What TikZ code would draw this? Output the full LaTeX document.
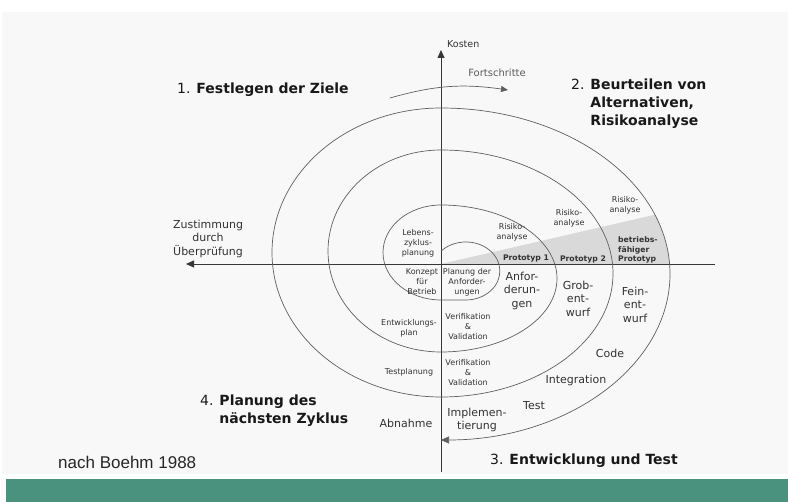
\documentclass[tikz,border=0pt]{standalone}
\usepackage{fontspec}
\setmainfont{DejaVu Sans}
\newfontfamily\refont{Liberation Sans}
\usetikzlibrary{arrows.meta,positioning}
\definecolor{bBg}{RGB}{248,248,248}
\definecolor{bWedge}{RGB}{217,217,217}
\definecolor{bLine}{RGB}{95,95,95}
\definecolor{bAxis}{RGB}{55,55,55}
\definecolor{bText}{RGB}{50,50,50}
\definecolor{bGreen}{RGB}{74,146,126}

\begin{document}
\begin{tikzpicture}[x=1pt,y=1pt,
	lbl/.style={
		text=bText, align=center, inner sep=0pt,
		font=\fontsize{8}{10}\selectfont
	},
	big/.style={lbl, font=\fontsize{11}{13.5}\selectfont},
	proto/.style={lbl, font=\bfseries\fontsize{7.7}{9.6}\selectfont},
	head/.style={
		text=black!90, align=left, inner sep=0pt,
		font=\fontsize{14}{18}\selectfont
	},
	spiral/.style={draw=bLine, line width=0.7pt},
	tip/.style={-{Triangle[length=8pt,width=7pt]}},
	axis/.style={draw=bAxis, line width=0.8pt, tip}
	]
	\useasboundingbox (0,0) rectangle (788,-502);
	\fill[bBg] (2,-12) rectangle (788,-474);
	\fill[bGreen] (6,-479) rectangle (788,-502);

	% shaded prototype wedge
	\begin{scope}
		\clip (441,-264) -- (700,-204.3) -- (700,-264) -- cycle;
		\fill[bWedge] (441,-274) ellipse[x radius=229, y radius=166];
	\end{scope}

	\coordinate (O) at (441,-264);
	\coordinate (ytop) at (441,-50);
	\coordinate (ybot) at (441,-472);
	\coordinate (xlft) at (186,-264);
	\coordinate (xrgt) at (715,-264);
	\coordinate (s0) at (441,-251.2);
	\coordinate (f0) at (390,-98);
	\coordinate (f1) at (508,-90);

	\draw[axis] (ybot) -- (ytop);
	\draw[axis] (xrgt) -- (xlft);

	% spiral
	\draw[spiral, tip] (s0)
	arc[start angle=137, end angle=-90, x radius=34, y radius=29] -- (441,-300)
	arc[start angle=270, end angle=90, x radius=58, y radius=47.5]
	arc[start angle=90, end angle=-90, x radius=116, y radius=73.5]
	arc[start angle=270, end angle=90, x radius=113, y radius=101]
	arc[start angle=90, end angle=-90, x radius=172, y radius=123.5]
	arc[start angle=270, end angle=90, x radius=169, y radius=144.5]
	arc[start angle=90, end angle=-90, x radius=229, y radius=166];

	\draw[spiral, -{Triangle[length=7pt,width=6pt]}] (f0) to[bend left=12] (f1);

	\node[lbl, font=\fontsize{9.5}{11}\selectfont, anchor=west] (kosten) at (447,-44) {Kosten};
	\node[lbl, text=bText!80, font=\fontsize{10}{12}\selectfont] (fort) at (497,-73) {Fortschritte};
	\node[big] (zust) at (208,-238.5) {Zustimmung\\durch\\Überprüfung};

	\node[head, anchor=west] (h1) at (177,-90) {1. \textbf{Festlegen der Ziele}};
	\node[head, anchor=west] (h2) at (571,-104) {\begin{tabular}{@{}l@{ }l@{}}
			2. & \textbf{Beurteilen von}\\ & \textbf{Alternativen,}\\ & \textbf{Risikoanalyse}
	\end{tabular}};
	\node[head, anchor=west] (h3) at (490,-461) {3. \textbf{Entwicklung und Test}};
	\node[head, anchor=west] (h4) at (200,-411) {\begin{tabular}{@{}l@{ }l@{}}
			4. & \textbf{Planung des}\\ & \textbf{nächsten Zyklus}
	\end{tabular}};
	\node[anchor=west, inner sep=0pt, text=black!85, font=\refont\fontsize{17}{20}\selectfont] (src) at (58,-462) {nach Boehm 1988};

	\foreach \n/\x/\y/\t in {
		lz/418/-243/{Lebens-\\zyklus-\\planung},
		kb/422/-282/{Konzept\\für\\Betrieb},
		pa/467/-282/{Planung der\\Anforder-\\ungen},
		ra1/512/-232.5/{Risiko-\\analyse},
		ra2/569/-218/{Risiko-\\analyse},
		ra3/625/-205/{Risiko-\\analyse},
		ep/409/-328/{Entwicklungs-\\plan},
		vv1/468/-327/{Verifikation\\\&\\Validation},
		tp/409/-372/{Testplanung},
		vv2/468/-373/{Verifikation\\\&\\Validation}}
	\node[lbl] (\n) at (\x,\y) {\t};

	\foreach \n/\x/\y/\t in {
		anf/522/-290.5/{Anfor-\\derun-\\gen},
		grob/578/-298.5/{Grob-\\ent-\\wurf},
		fein/635/-304.5/{Fein-\\ent-\\wurf},
		code/610/-353/{Code},
		integ/576/-380/{Integration},
		test/534/-406/{Test},
		impl/477/-420/{Implemen-\\tierung},
		abn/406/-423/{Abnahme}}
	\node[big] (\n) at (\x,\y) {\t};

	\node[proto] (p1) at (526,-259) {Prototyp 1};
	\node[proto] (p2) at (583,-259) {Prototyp 2};
	\node[proto, align=left, anchor=west] (p3) at (618,-250) {betriebs-\\fähiger\\Prototyp};
\end{tikzpicture}
\end{document}
